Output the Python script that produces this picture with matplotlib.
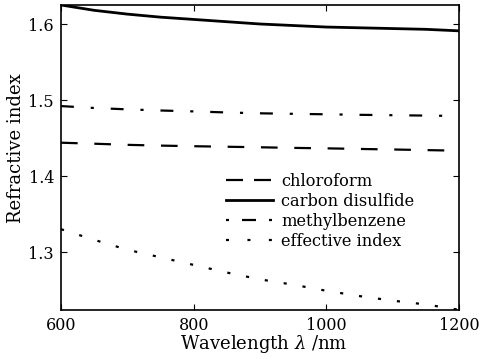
import matplotlib
matplotlib.use("Agg")
import matplotlib.pyplot as plt
import numpy as np

plt.rcParams['font.family'] = ['DejaVu Serif']
plt.rcParams['mathtext.fontset'] = 'dejavuserif'

wl = [600, 650, 700, 750, 800, 850, 900, 950, 1000, 1050, 1100, 1150, 1200]
chloroform = [1.4438, 1.4425, 1.4410, 1.4400, 1.4392, 1.4385, 1.4378, 1.4370, 1.4364, 1.4356, 1.4349, 1.4341, 1.4333]
carbon_disulfide = [1.625, 1.618, 1.613, 1.609, 1.606, 1.603, 1.600, 1.598, 1.596, 1.595, 1.594, 1.593, 1.591]
methylbenzene = [1.492, 1.4895, 1.4877, 1.4862, 1.4850, 1.4836, 1.4825, 1.4818, 1.4812, 1.4805, 1.4800, 1.4795, 1.4790]
effective = [1.330, 1.316, 1.303, 1.293, 1.283, 1.273, 1.264, 1.257, 1.249, 1.242, 1.236, 1.231, 1.224]

xticks = [600, 800, 1000, 1200]
yticks = [1.3, 1.4, 1.5, 1.6]

fig = plt.figure(figsize=(4.83, 3.59), dpi=100)
ax = fig.add_axes([61/483, 1 - 310/359, 398/483, 305/359])

lw = 1.6
ax.plot(wl, chloroform, color='black', lw=lw, dashes=(7.5, 7.5), label='chloroform')
ax.plot(wl, carbon_disulfide, color='black', lw=2.0, label='carbon disulfide')
ax.plot(wl, methylbenzene, color='black', lw=lw, dashes=(5.8, 7.6, 1.4, 7.6), label='methylbenzene')
ax.plot(wl, effective, color='black', lw=lw, dashes=(1.4, 7.2), label='effective index')

ax.set_xlim(600, 1200)
ax.set_ylim(1.2237, 1.625)
ax.set_xticks(xticks)
ax.set_yticks(yticks)
ax.tick_params(direction='in', top=True, right=True, length=4, width=0.8, labelsize=11.5, pad=5)
for s in ax.spines.values():
    s.set_linewidth(1.2)

ax.set_xlabel('Wavelength $\\lambda$ /nm', fontsize=13)
ax.set_ylabel('Refractive index', fontsize=13)
ax.xaxis.set_label_coords(0.51, -0.075)
ax.yaxis.set_label_coords(-0.09, 0.53)

leg = ax.legend(loc='center left', bbox_to_anchor=(0.4146, 0.323), frameon=False, fontsize=11.7,
                handlelength=2.9, handletextpad=0.5, labelspacing=0.18, borderpad=0,
                borderaxespad=0)
lines = leg.get_lines()
lines[0].set_linestyle((0, (7.65, 4.95)))
lines[2].set_linestyle((0, (1.35, 5.85, 6.3, 5.85)))
lines[3].set_linestyle((0, (1.35, 8.3)))

fig.savefig('out.png', dpi=100)
